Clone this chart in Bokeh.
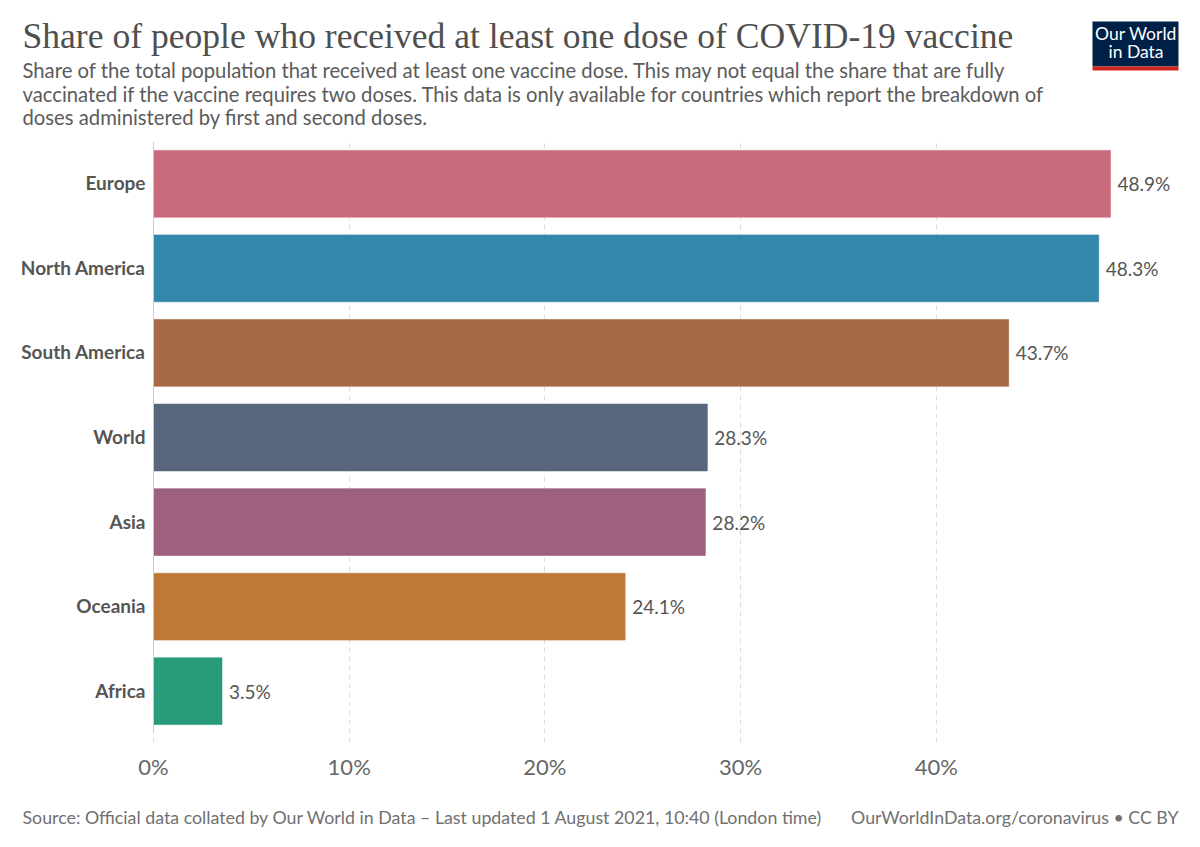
from bokeh.plotting import figure
from bokeh.layouts import column
from bokeh.models import (ColumnDataSource, FactorRange, Range1d, FixedTicker,
                          PrintfTickFormatter, Span)
from bokeh.core.properties import value
from bokeh.embed import file_html
from bokeh.resources import INLINE

# Share of population with at least one vaccine dose (%)
regions = ["Europe", "North America", "South America", "World", "Asia", "Oceania", "Africa"]
shares = [48.9, 48.3, 43.7, 28.3, 28.2, 24.1, 3.5]
colors = ["#C96A7B", "#3387AA", "#A66A46", "#58677E", "#9D617D", "#BE7938", "#289C7A"]
x_ticks = [0, 10, 20, 30, 40]

title = "Share of people who received at least one dose of COVID-19 vaccine"
subtitle = [
    "Share of the total population that received at least one vaccine dose. This may not equal the share that are fully",
    "vaccinated if the vaccine requires two doses. This data is only available for countries which report the breakdown of",
    "doses administered by first and second doses.",
]
source_note = ("Source: Official data collated by Our World in Data \u2013 Last updated 1 August 2021, "
               "10:40 (London time)")
license_note = "OurWorldInData.org/coronavirus \u2022 CC BY"

W = 1200
HEAD_H, MAIN_H, FOOT_H = 141, 649, 57
FRAME_R = 1190              # right edge of every frame, pixels
FRAME_H = 592               # bar-chart frame height, pixels
ZERO_X = 153                # pixel position of the 0 % line
PX_PER_PCT = 19.57          # horizontal scale of the bar chart


def blank_panel(h):
    # a figure used as a pixel canvas for the header and footer texts
    f = figure(width=W, height=h, output_backend="svg", toolbar_location=None,
               x_range=Range1d(0, FRAME_R), y_range=Range1d(h, 0),
               min_border_left=0, min_border_right=W - FRAME_R,
               min_border_top=0, min_border_bottom=0,
               x_axis_location=None, y_axis_location=None)
    f.grid.visible = False
    f.outline_line_color = None
    f.background_fill_color = "white"
    f.border_fill_color = "white"
    return f


# ---- header: title, subtitle and logo
head = blank_panel(HEAD_H)
head.text(x=[22], y=[35.5], text=[title], text_font=value("Liberation Serif"),
          text_font_size="35.6px", text_color="#4f4f4f", text_baseline="alphabetic")
head.text(x=[22] * 3, y=[69.5, 93, 116.5], text=subtitle, text_font=value("Lato"),
          text_font_size="20.25px", text_color="#5b5b5b", text_baseline="alphabetic")
head.quad(left=[1092], right=[1178], top=[21], bottom=[66],
          fill_color="#002147", line_color=None)
head.quad(left=[1092], right=[1178], top=[66], bottom=[70],
          fill_color="#CE261E", line_color=None)
head.text(x=[1135.5, 1135.5], y=[32.5, 50.5], text=["Our World", "in Data"],
          text_font=value("Lato"), text_font_size="17.5px", text_color="white",
          text_align="center", text_baseline="alphabetic")

# ---- main bar chart
src = ColumnDataSource(dict(
    region=regions, share=shares, color=colors,
    label=[f"{v:.1f}%" for v in shares],
))

p = figure(width=W, height=MAIN_H, output_backend="svg", toolbar_location=None,
           y_range=FactorRange(factors=regions[::-1]),
           x_range=Range1d(-ZERO_X / PX_PER_PCT, (FRAME_R - ZERO_X) / PX_PER_PCT),
           min_border_left=0, min_border_right=W - FRAME_R,
           min_border_top=0, min_border_bottom=MAIN_H - FRAME_H,
           y_axis_location=None)
p.outline_line_color = None
p.background_fill_color = "white"
p.border_fill_color = "white"

p.hbar(y="region", right="share", left=0, height=0.79, source=src,
       fill_color="color", line_color="color", line_alpha=0.6)

# value labels at the bar ends
p.text(x="share", y="region", text="label", source=src, x_offset=7,
       text_font=value("Lato"), text_font_size="19px", text_color="#555555",
       text_baseline="middle", text_align="left")

# category names left of the zero line
p.text(x=0, y="region", text="region", source=src, x_offset=-8, y_offset=-1,
       text_font=value("Lato"), text_font_style="bold", text_font_size="19px",
       text_color="#555555", text_baseline="middle", text_align="right")

p.ygrid.grid_line_color = None
p.xgrid.ticker = FixedTicker(ticks=x_ticks)
p.xgrid.grid_line_color = "#dddddd"
p.xgrid.grid_line_dash = "5 4"
p.add_layout(Span(location=0, dimension="height", line_color="#cccccc", line_width=1))

xa = p.xaxis[0]
xa.ticker = FixedTicker(ticks=x_ticks)
xa.formatter = PrintfTickFormatter(format="%d%%")
xa.axis_line_color = None
xa.major_tick_in = 0
xa.major_tick_out = 9
xa.major_tick_line_color = "#dddddd"
xa.major_tick_line_dash = "5 4"
xa.minor_tick_line_color = None
xa.major_label_text_font = "Lato"
xa.major_label_text_font_size = "22px"
xa.major_label_text_color = "#666666"
xa.major_label_standoff = 10

# ---- footer: source and licence
foot = blank_panel(FOOT_H)
foot.text(x=[22], y=[26], text=[source_note], text_font=value("Lato"),
          text_font_size="17.8px", text_color="#707070", text_baseline="alphabetic")
foot.text(x=[1178], y=[26], text=[license_note], text_font=value("Lato"),
          text_font_size="17.8px", text_color="#707070", text_baseline="alphabetic",
          text_align="right")

layout = column(head, p, foot, spacing=0)
open("out.html", "w").write(file_html(layout, INLINE))
